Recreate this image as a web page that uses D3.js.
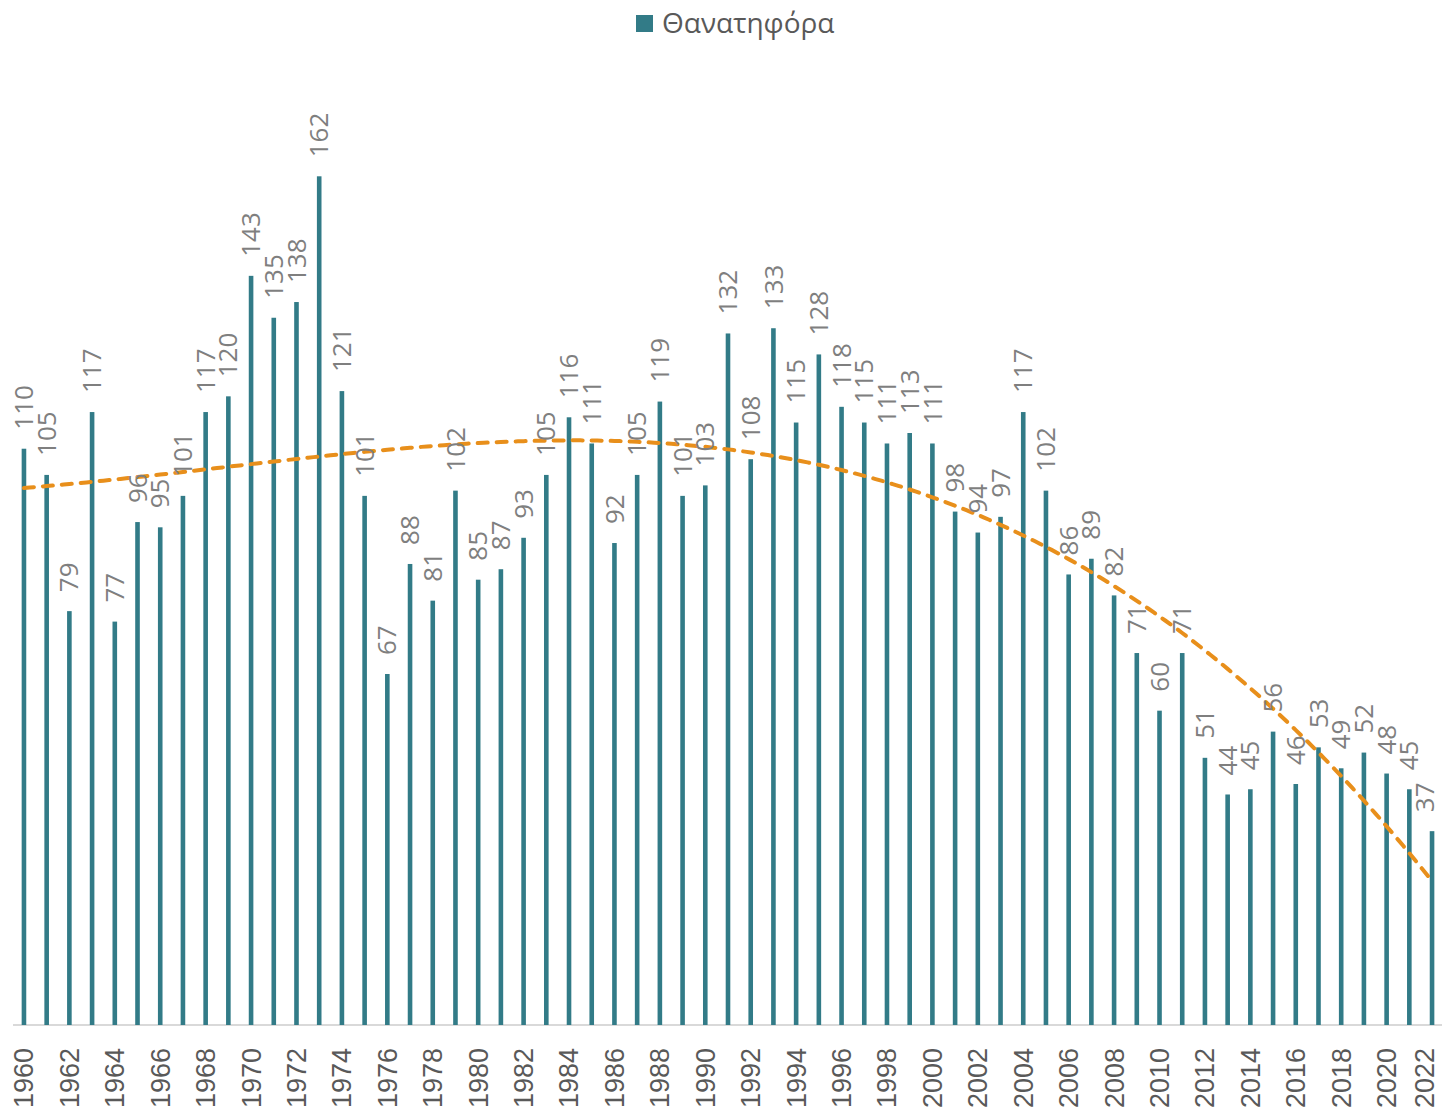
<!DOCTYPE html>
<html>
<head>
<meta charset="utf-8">
<script src="https://cdn.jsdelivr.net/npm/d3@7"></script>
<style>
  body { margin: 0; background: #fff; }
</style>
</head>
<body>
<svg id="chart"></svg>
<script>

var years = d3.range(1960, 2023);

var fatal = [110, 105, 79, 117, 77, 96, 95, 101, 117, 120,
	143, 135, 138, 162, 121, 101, 67, 88, 81, 102,
	85, 87, 93, 105, 116, 111, 92, 105, 119, 101,
	103, 132, 108, 133, 115, 128, 118, 115, 111, 113,
	111, 98, 94, 97, 117, 102, 86, 89, 82, 71,
	60, 71, 51, 44, 45, 56, 46, 53, 49, 52,
	48, 45, 37];

var seriesName = 'Θανατηφόρα';
var trendOrder = 3;

var width = 1442,
	height = 1115;

var barColor = '#327b87',
	trendColor = '#e88f1b';

var svg = d3.select('#chart')
	.attr('width', width)
	.attr('height', height);

var x = d3.scaleBand()
	.domain(years)
	.range([12.6, 1443.4])
	.paddingInner(0.8)
	.paddingOuter(0.4);

var y = d3.scaleLinear()
	.domain([0, 180])
	.range([1025, 82]);

var cx = function(d) { return x(d) + x.bandwidth() / 2; };
// keep rotated texts inside the right edge
var tx = function(d) { return Math.min(cx(d), 1425); };

// axis line
svg.append('line')
	.attr('x1', 13)
	.attr('x2', width)
	.attr('y1', y(0))
	.attr('y2', y(0))
	.style('stroke', '#d9d9d9')
	.style('stroke-width', 2);

// bars
svg.selectAll('rect.bar')
	.data(years)
	.enter().append('rect')
	.attr('class', 'bar')
	.attr('x', function(d) { return cx(d) - 2.3; })
	.attr('width', 4.6)
	.attr('y', function(d, i) { return y(fatal[i]); })
	.attr('height', function(d, i) { return y(0) - y(fatal[i]); })
	.style('fill', barColor);

// polynomial trend (least squares on the data)
function polyFit(xs, ys, order) {
	var n = order + 1;
	var A = [], b = [];
	for (var r = 0; r < n; r++) {
		A.push(new Array(n).fill(0));
		b.push(0);
	}
	xs.forEach(function(xv, k) {
		for (var r = 0; r < n; r++) {
			b[r] += ys[k] * Math.pow(xv, r);
			for (var c = 0; c < n; c++) A[r][c] += Math.pow(xv, r + c);
		}
	});
	// gaussian elimination
	for (var i = 0; i < n; i++) {
		var p = i;
		for (var j = i + 1; j < n; j++) if (Math.abs(A[j][i]) > Math.abs(A[p][i])) p = j;
		var t = A[i]; A[i] = A[p]; A[p] = t;
		t = b[i]; b[i] = b[p]; b[p] = t;
		for (var j = i + 1; j < n; j++) {
			var f = A[j][i] / A[i][i];
			for (var c = i; c < n; c++) A[j][c] -= f * A[i][c];
			b[j] -= f * b[i];
		}
	}
	var coef = new Array(n).fill(0);
	for (var i = n - 1; i >= 0; i--) {
		var s = b[i];
		for (var c = i + 1; c < n; c++) s -= A[i][c] * coef[c];
		coef[i] = s / A[i][i];
	}
	return function(xv) {
		return coef.reduce(function(s, c, k) { return s + c * Math.pow(xv, k); }, 0);
	};
}

var tOf = function(yr) { return (yr - 1991) / 31; };
var trend = polyFit(years.map(tOf), fatal, trendOrder);

var xLin = d3.scaleLinear().domain([1960, 2022]).range([cx(1960), cx(2022)]);
var trendPts = d3.range(1960, 2022.01, 0.25);

svg.append('path')
	.datum(trendPts)
	.attr('d', d3.line()
		.x(function(d) { return xLin(d); })
		.y(function(d) { return y(trend(tOf(d))); }))
	.style('fill', 'none')
	.style('stroke', trendColor)
	.style('stroke-width', 4)
	.style('stroke-dasharray', '10,9')
	.style('stroke-linecap', 'round');

// data labels
svg.selectAll('text.value')
	.data(years)
	.enter().append('text')
	.attr('class', 'value')
	.attr('transform', function(d, i) {
		return 'translate(' + tx(d) + ',' + (y(fatal[i]) - 19) + ') rotate(-90)';
	})
	.attr('dy', '0.35em')
	.style('font-family', '"Open Sans", "Liberation Sans", sans-serif')
	.style('font-size', '26px')
	.style('fill', '#7f7f7f')
	.style('text-anchor', 'start')
	.text(function(d, i) { return fatal[i]; });

// year labels (every other year)
svg.selectAll('text.year')
	.data(years.filter(function(d) { return d % 2 === 0; }))
	.enter().append('text')
	.attr('class', 'year')
	.attr('transform', function(d) {
		return 'translate(' + tx(d) + ',1048) rotate(-90)';
	})
	.attr('dy', '0.35em')
	.style('font-family', '"Liberation Sans", Arial, sans-serif')
	.style('font-size', '27px')
	.style('fill', '#595959')
	.style('text-anchor', 'end')
	.text(function(d) { return d; });

// legend
var legend = svg.append('g').attr('transform', 'translate(636,15)');
legend.append('rect')
	.attr('width', 17)
	.attr('height', 17)
	.style('fill', barColor);
legend.append('text')
	.attr('x', 26)
	.attr('y', 8.5)
	.attr('dy', '0.35em')
	.style('font-family', '"Open Sans", "Liberation Sans", sans-serif')
	.style('font-size', '28px')
	.style('fill', '#595959')
	.text(seriesName);

</script>
</body>
</html>
